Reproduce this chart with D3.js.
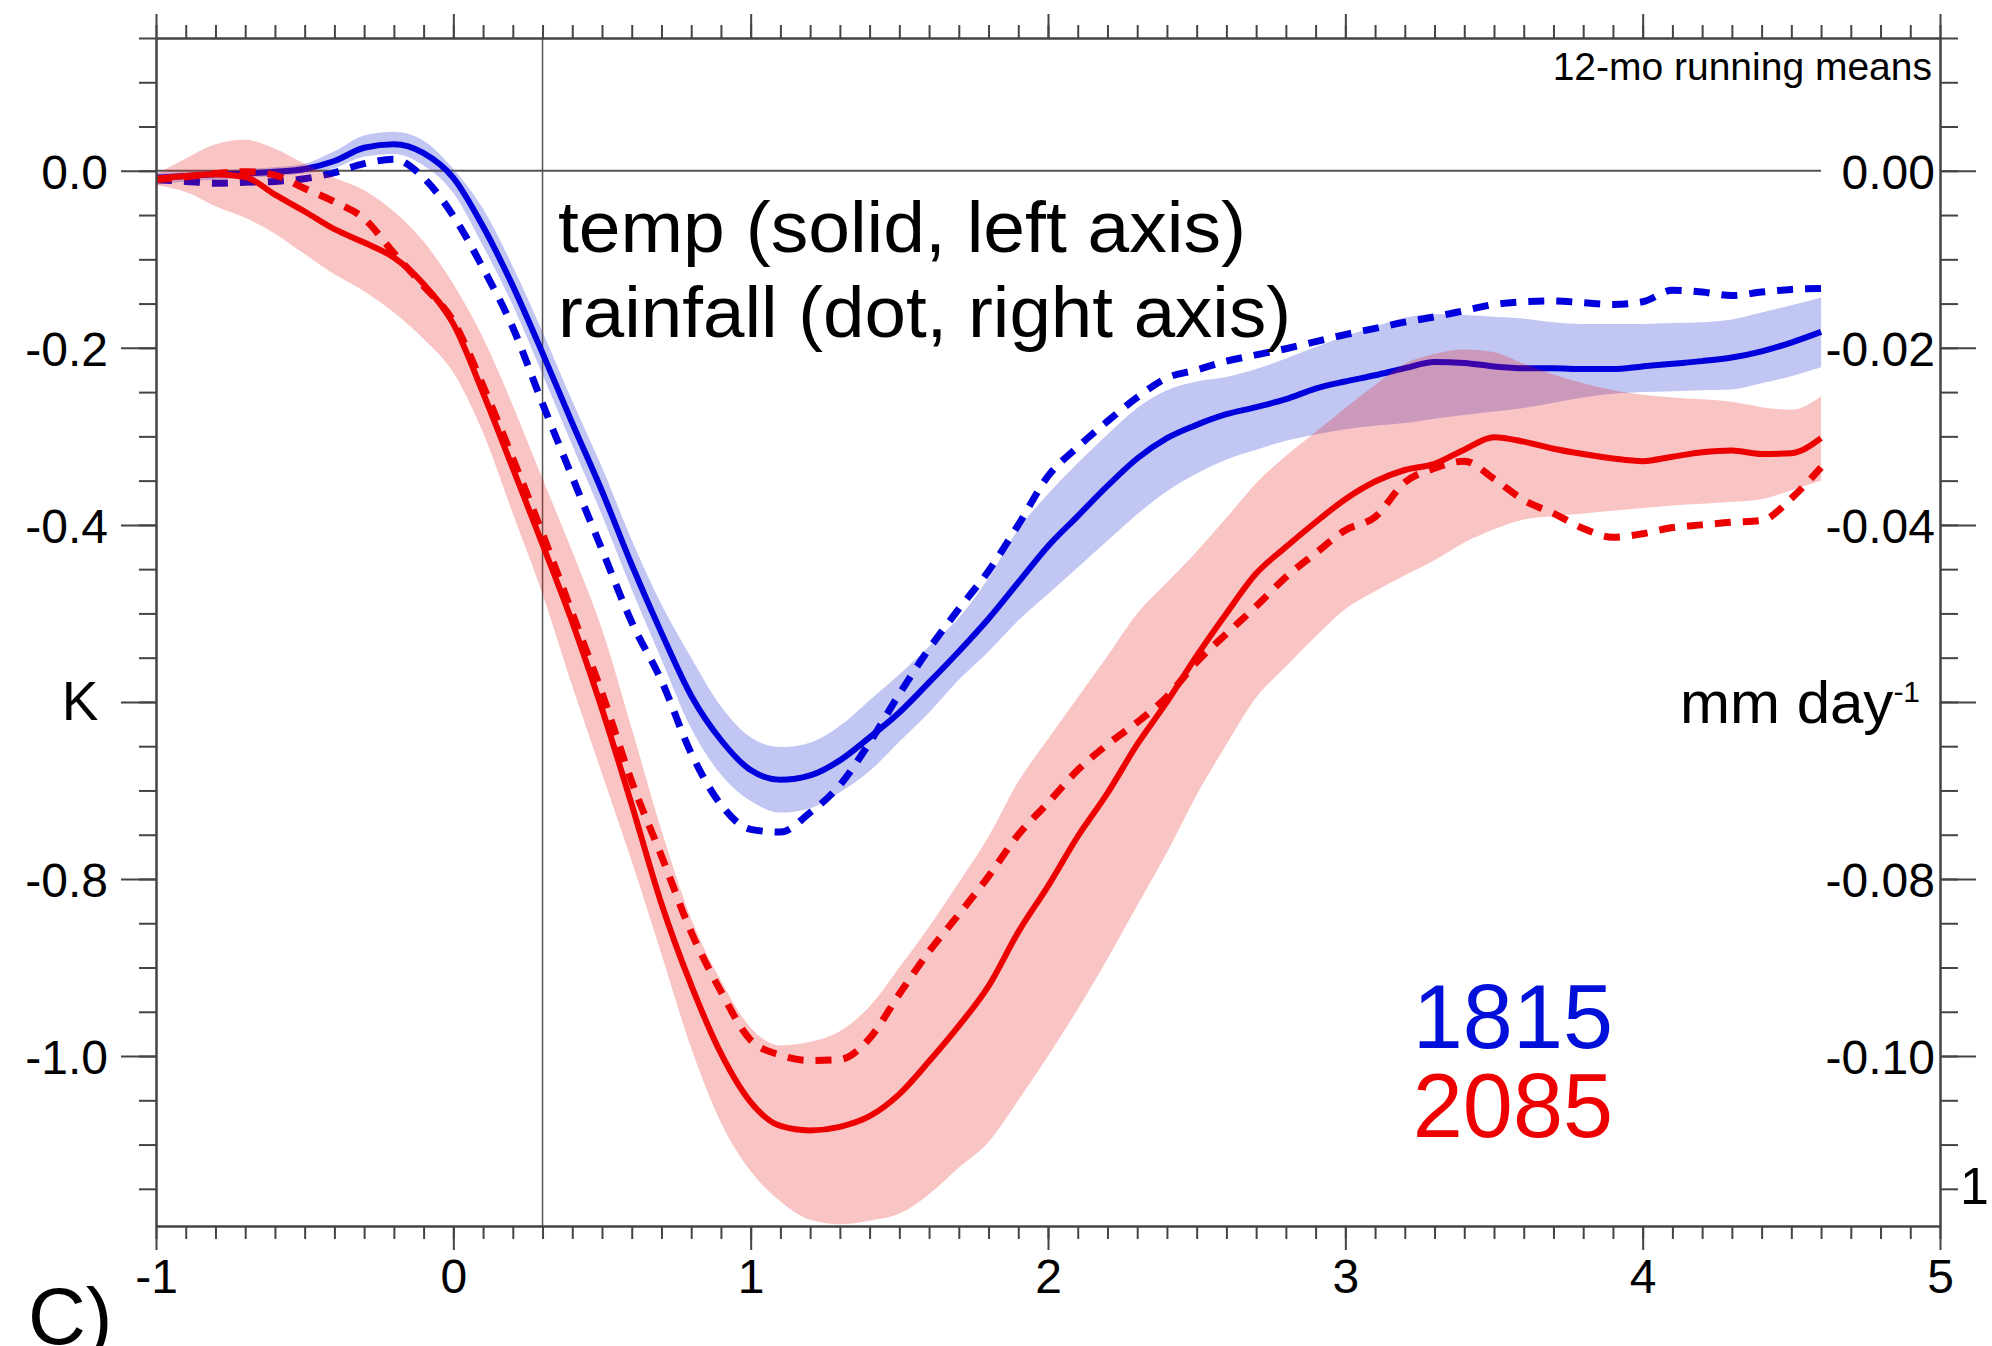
<!DOCTYPE html>
<html>
<head>
<meta charset="utf-8">
<script src="https://cdn.jsdelivr.net/npm/d3@7"></script>
<style>
  html, body { margin: 0; padding: 0; background: #fff; }
  svg { display: block; }
  text { font-family: "Liberation Sans", Arial, Helvetica, sans-serif; fill: #000; }
</style>
</head>
<body>
<div id="chart"></div>
<script>
// years after the eruption (12-month running means)
const years = [-1.0,-0.9,-0.8,-0.7,-0.6,-0.5,-0.4,-0.3,-0.2,-0.1,
  0.0,0.1,0.2,0.3,0.4,0.5,0.6,0.7,0.8,0.9,
  1.0,1.1,1.2,1.3,1.4,1.5,1.6,1.7,1.8,1.9,
  2.0,2.1,2.2,2.3,2.4,2.5,2.6,2.7,2.8,2.9,
  3.0,3.1,3.2,3.3,3.4,3.5,3.6,3.7,3.8,3.9,
  4.0,4.1,4.2,4.3,4.4,4.5,4.6];

// 1815 temperature anomaly (K) and its spread
const temp1815 = [-0.008,-0.006,-0.004,-0.003,-0.001,0.002,0.011,0.026,0.030,0.020,
  -0.008,-0.063,-0.130,-0.206,-0.285,-0.362,-0.445,-0.522,-0.593,-0.643,
  -0.677,-0.688,-0.683,-0.666,-0.640,-0.612,-0.578,-0.543,-0.506,-0.465,
  -0.424,-0.390,-0.356,-0.325,-0.302,-0.287,-0.275,-0.267,-0.258,-0.246,
  -0.238,-0.231,-0.223,-0.216,-0.217,-0.221,-0.223,-0.223,-0.224,-0.224,
  -0.221,-0.218,-0.215,-0.211,-0.204,-0.194,-0.182];
const temp1815Hi = [-0.002,-0.001,0.000,0.002,0.004,0.008,0.022,0.040,0.044,0.034,
  0.002,-0.043,-0.108,-0.182,-0.260,-0.335,-0.417,-0.490,-0.550,-0.605,
  -0.640,-0.651,-0.646,-0.627,-0.598,-0.569,-0.537,-0.505,-0.460,-0.405,
  -0.365,-0.330,-0.298,-0.268,-0.248,-0.238,-0.233,-0.224,-0.212,-0.199,
  -0.187,-0.176,-0.166,-0.162,-0.163,-0.165,-0.167,-0.171,-0.173,-0.173,
  -0.173,-0.172,-0.171,-0.168,-0.160,-0.152,-0.143];
const temp1815Lo = [-0.016,-0.012,-0.010,-0.008,-0.006,-0.003,0.003,0.016,0.019,0.006,
  -0.025,-0.085,-0.152,-0.230,-0.310,-0.389,-0.473,-0.552,-0.630,-0.682,
  -0.712,-0.725,-0.720,-0.702,-0.678,-0.645,-0.612,-0.575,-0.543,-0.508,
  -0.478,-0.448,-0.418,-0.388,-0.362,-0.342,-0.326,-0.315,-0.305,-0.298,
  -0.292,-0.288,-0.285,-0.280,-0.276,-0.272,-0.268,-0.262,-0.256,-0.252,
  -0.250,-0.249,-0.248,-0.247,-0.240,-0.232,-0.222];
// 1815 rainfall anomaly (mm/day)
const rain1815 = [-0.0010,-0.0012,-0.0014,-0.0013,-0.0012,-0.0009,-0.0002,0.0008,0.0013,-0.0008,
  -0.0051,-0.0110,-0.0177,-0.0263,-0.0346,-0.0428,-0.0510,-0.0576,-0.0658,-0.0716,
  -0.0744,-0.0747,-0.0725,-0.0694,-0.0646,-0.0591,-0.0540,-0.0495,-0.0452,-0.0400,
  -0.0345,-0.0312,-0.0283,-0.0256,-0.0234,-0.0225,-0.0215,-0.0208,-0.0201,-0.0193,
  -0.0185,-0.0178,-0.0171,-0.0165,-0.0158,-0.0151,-0.0148,-0.0147,-0.0149,-0.0151,
  -0.0148,-0.0135,-0.0137,-0.0141,-0.0137,-0.0134,-0.0133];

// 2085 temperature anomaly (K) and its spread
const temp2085 = [-0.009,-0.006,-0.004,-0.007,-0.027,-0.046,-0.066,-0.081,-0.098,-0.128,
  -0.173,-0.251,-0.336,-0.422,-0.510,-0.608,-0.716,-0.828,-0.920,-0.997,
  -1.052,-1.079,-1.084,-1.080,-1.068,-1.043,-1.006,-0.966,-0.921,-0.860,
  -0.808,-0.752,-0.703,-0.648,-0.600,-0.548,-0.500,-0.455,-0.425,-0.397,
  -0.371,-0.351,-0.338,-0.331,-0.315,-0.301,-0.306,-0.314,-0.320,-0.325,
  -0.328,-0.323,-0.318,-0.316,-0.320,-0.319,-0.302];
const temp2085Hi = [-0.004,0.014,0.030,0.035,0.025,0.008,-0.008,-0.022,-0.046,-0.080,
  -0.128,-0.189,-0.265,-0.348,-0.430,-0.518,-0.630,-0.745,-0.845,-0.915,
  -0.968,-0.988,-0.984,-0.972,-0.944,-0.900,-0.854,-0.804,-0.752,-0.690,
  -0.642,-0.595,-0.548,-0.500,-0.465,-0.430,-0.392,-0.353,-0.322,-0.295,
  -0.268,-0.242,-0.218,-0.207,-0.202,-0.205,-0.218,-0.230,-0.240,-0.248,
  -0.253,-0.256,-0.258,-0.261,-0.267,-0.270,-0.255];
const temp2085Lo = [-0.016,-0.024,-0.040,-0.053,-0.071,-0.094,-0.117,-0.136,-0.160,-0.190,
  -0.228,-0.296,-0.387,-0.478,-0.582,-0.681,-0.780,-0.885,-0.991,-1.075,
  -1.130,-1.164,-1.185,-1.190,-1.186,-1.178,-1.156,-1.126,-1.097,-1.050,
  -1.000,-0.947,-0.890,-0.830,-0.770,-0.705,-0.648,-0.595,-0.560,-0.526,
  -0.495,-0.475,-0.457,-0.440,-0.420,-0.405,-0.394,-0.390,-0.387,-0.384,
  -0.381,-0.378,-0.376,-0.374,-0.371,-0.361,-0.350];
// 2085 rainfall anomaly (mm/day)
const rain2085 = [-0.0010,-0.0007,-0.0003,-0.0001,-0.0005,-0.0020,-0.0035,-0.0054,-0.0093,-0.0130,
  -0.0170,-0.0243,-0.0325,-0.0410,-0.0500,-0.0590,-0.0690,-0.0774,-0.0860,-0.0927,
  -0.0982,-0.0999,-0.1005,-0.1004,-0.0980,-0.0930,-0.0882,-0.0840,-0.0797,-0.0750,
  -0.0714,-0.0677,-0.0648,-0.0623,-0.0594,-0.0555,-0.0523,-0.0492,-0.0459,-0.0432,
  -0.0406,-0.0391,-0.0352,-0.0336,-0.0328,-0.0348,-0.0372,-0.0387,-0.0404,-0.0414,
  -0.0410,-0.0403,-0.0400,-0.0397,-0.0395,-0.0370,-0.0335];

// axis ticks
const xMajor = [-1, 0, 1, 2, 3, 4, 5];
const xMinor = d3.range(-10, 51).map(d => d / 10);
const tempMajor = [0, -0.2, -0.4, -0.6, -0.8, -1.0];
const tempMinor = d3.range(-23, 4).map(d => d * 0.05);
const rainMajor = [0, -0.02, -0.04, -0.06, -0.08, -0.10];
const rainMinor = d3.range(-23, 4).map(d => d * 0.005);
const blankTemp = [-0.6];
const blankRain = [-0.06];

const width = 1992, height = 1346;
const plot = { left: 156, right: 1940, top: 38, bottom: 1226 };

const BLUE = "#0000dc", RED = "#ec0000";
const AXIS = "#444";

const svg = d3.select("#chart").append("svg")
  .attr("width", width).attr("height", height);

const x = d3.scaleLinear().domain([-1, 5]).range([plot.left, plot.right]);
const yT = d3.scaleLinear().domain([0.15, -1.192]).range([plot.top, plot.bottom]);
const yR = d3.scaleLinear().domain([0.015, -0.1192]).range([plot.top, plot.bottom]);

svg.append("defs").append("clipPath").attr("id", "plotclip")
  .append("rect")
  .attr("x", plot.left).attr("y", plot.top)
  .attr("width", plot.right - plot.left).attr("height", plot.bottom - plot.top);

const rows1815 = years.map((t, i) => ({ t, v: temp1815[i], hi: temp1815Hi[i], lo: temp1815Lo[i], r: rain1815[i] }));
const rows2085 = years.map((t, i) => ({ t, v: temp2085[i], hi: temp2085Hi[i], lo: temp2085Lo[i], r: rain2085[i] }));

const band = d3.area().curve(d3.curveMonotoneX)
  .x(d => x(d.t)).y0(d => yT(d.lo)).y1(d => yT(d.hi));
const tempLine = d3.line().curve(d3.curveMonotoneX)
  .x(d => x(d.t)).y(d => yT(d.v));
const rainLine = d3.line().curve(d3.curveMonotoneX)
  .x(d => x(d.t)).y(d => yR(d.r));

const g = svg.append("g").attr("clip-path", "url(#plotclip)");

// 1815: band, then lines
g.append("path").datum(rows1815).attr("d", band).attr("fill", "#c2c6f3");

// reference lines
g.append("line")
  .attr("x1", x(-1)).attr("x2", x(4.6))
  .attr("y1", yT(0)).attr("y2", yT(0))
  .attr("stroke", "#555").attr("stroke-width", 2);
g.append("line")
  .attr("x1", x(0.3)).attr("x2", x(0.3))
  .attr("y1", plot.top).attr("y2", plot.bottom)
  .attr("stroke", "#555").attr("stroke-width", 1.5);

g.append("path").datum(rows1815).attr("d", tempLine)
  .attr("fill", "none").attr("stroke", BLUE).attr("stroke-width", 6);
g.append("path").datum(rows1815).attr("d", rainLine)
  .attr("fill", "none").attr("stroke", BLUE).attr("stroke-width", 7)
  .attr("stroke-dasharray", "16,12");

// 2085: translucent band over the 1815 curves
g.append("path").datum(rows2085).attr("d", band).attr("fill", "rgba(232,20,20,0.25)");
g.append("path").datum(rows2085).attr("d", tempLine)
  .attr("fill", "none").attr("stroke", RED).attr("stroke-width", 6);
g.append("path").datum(rows2085).attr("d", rainLine)
  .attr("fill", "none").attr("stroke", RED).attr("stroke-width", 7)
  .attr("stroke-dasharray", "16,12");

// axes
function styleAxis(sel) {
  sel.selectAll("path.domain").attr("stroke", AXIS).attr("stroke-width", 2);
  sel.selectAll(".tick line").attr("stroke", AXIS).attr("stroke-width", 2);
  sel.selectAll(".tick text")
    .style("font-family", '"Liberation Sans", Arial, sans-serif')
    .style("font-size", "48px").attr("fill", "#000");
}

// bottom
svg.append("g").attr("transform", `translate(0,${plot.bottom})`)
  .call(d3.axisBottom(x).tickValues(xMinor).tickSize(13).tickSizeOuter(0).tickFormat(""))
  .call(styleAxis);
svg.append("g").attr("transform", `translate(0,${plot.bottom})`)
  .call(d3.axisBottom(x).tickValues(xMajor).tickSize(24).tickSizeOuter(0).tickPadding(9)
    .tickFormat(d => String(d)))
  .call(styleAxis);

// top
svg.append("g").attr("transform", `translate(0,${plot.top})`)
  .call(d3.axisTop(x).tickValues(xMinor).tickSize(13).tickSizeOuter(0).tickFormat(""))
  .call(styleAxis);
svg.append("g").attr("transform", `translate(0,${plot.top})`)
  .call(d3.axisTop(x).tickValues(xMajor).tickSize(24).tickSizeOuter(0).tickFormat(""))
  .call(styleAxis);

// left (temperature)
svg.append("g").attr("transform", `translate(${plot.left},0)`)
  .call(d3.axisLeft(yT).tickValues(tempMinor).tickSize(17).tickSizeOuter(0).tickFormat(""))
  .call(styleAxis);
svg.append("g").attr("transform", `translate(${plot.left},0)`)
  .call(d3.axisLeft(yT).tickValues(tempMajor).tickSize(35).tickSizeOuter(0).tickPadding(13)
    .tickFormat(d => blankTemp.includes(d) ? "" : d.toFixed(1)))
  .call(styleAxis)
  .selectAll(".tick text").attr("dy", "0.36em");

// right (rainfall), labels sit inside the frame
svg.append("g").attr("transform", `translate(${plot.right},0)`)
  .call(d3.axisRight(yR).tickValues(rainMinor).tickSize(18).tickSizeOuter(0).tickFormat(""))
  .call(styleAxis);
svg.append("g").attr("transform", `translate(${plot.right},0)`)
  .call(d3.axisRight(yR).tickValues(rainMajor).tickSize(36).tickSizeOuter(0)
    .tickFormat(d => blankRain.includes(d) ? "" : d.toFixed(2)))
  .call(styleAxis)
  .selectAll(".tick text")
  .attr("x", -5).attr("dy", "0.36em").attr("text-anchor", "end");

// axis unit labels
svg.append("text").attr("x", 80).attr("y", 720)
  .attr("text-anchor", "middle").style("font-size", "55px").text("K");
const unit = svg.append("text").attr("x", 1680).attr("y", 723).style("font-size", "60px");
unit.append("tspan").text("mm day");
unit.append("tspan").attr("dy", -21).style("font-size", "30px").text("-1");

// annotations
svg.append("text").attr("x", 1932).attr("y", 80)
  .attr("text-anchor", "end").style("font-size", "39px").text("12-mo running means");

const note = svg.append("g")
  .style("font-family", 'Roboto, "Liberation Sans", sans-serif')
  .style("font-weight", 300).style("font-size", "72px");
note.append("text").attr("x", 558).attr("y", 252)
  .attr("textLength", 688).attr("lengthAdjust", "spacingAndGlyphs")
  .text("temp (solid, left axis)");
note.append("text").attr("x", 558).attr("y", 337)
  .attr("textLength", 733).attr("lengthAdjust", "spacingAndGlyphs")
  .text("rainfall (dot, right axis)");

svg.append("text").attr("x", 1613).attr("y", 1048)
  .attr("text-anchor", "end").style("font-size", "90px")
  .style("fill", "#0010d8").text("1815");
svg.append("text").attr("x", 1613).attr("y", 1137)
  .attr("text-anchor", "end").style("font-size", "90px")
  .style("fill", "#ee0000").text("2085");

svg.append("text").attr("x", 28).attr("y", 1344).style("font-size", "80px").text("C)");
svg.append("text").attr("x", 1960).attr("y", 1204).style("font-size", "52px").text("1");
</script>
</body>
</html>
